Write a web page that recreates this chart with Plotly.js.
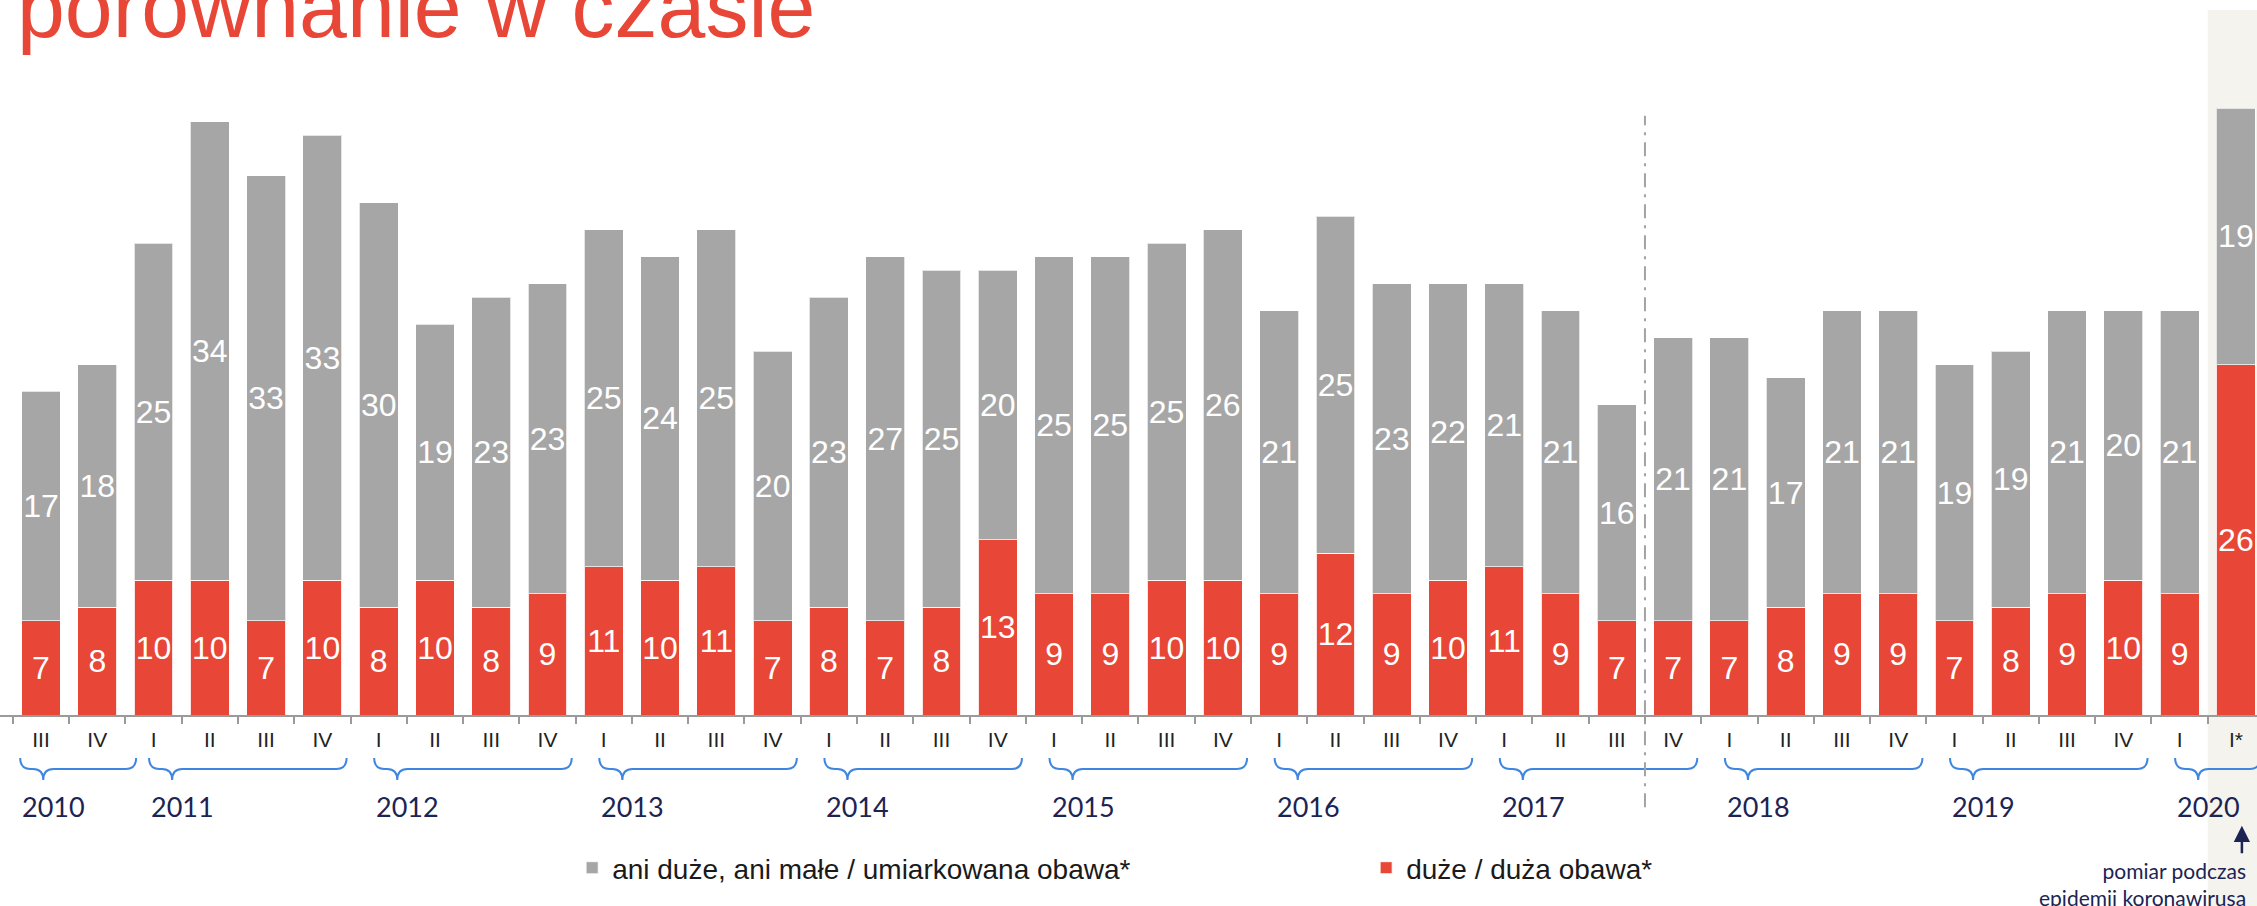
<!DOCTYPE html>
<html>
<head>
<meta charset="utf-8">
<script src="https://cdn.plot.ly/plotly-3.0.1.min.js"></script>
<style>
  html, body { margin: 0; padding: 0; background: #ffffff; }
  #chart { width: 2257px; height: 906px; }
</style>
</head>
<body>
<div id="chart"></div>
<script>
// ---------- data ----------
const years = [
  '2010','2010',
  '2011','2011','2011','2011',
  '2012','2012','2012','2012',
  '2013','2013','2013','2013',
  '2014','2014','2014','2014',
  '2015','2015','2015','2015',
  '2016','2016','2016','2016',
  '2017','2017','2017','2017',
  '2018','2018','2018','2018',
  '2019','2019','2019','2019',
  '2020','2020'
];
const quarters = [
  'III','IV',
  'I','II','III','IV',
  'I','II','III','IV',
  'I','II','III','IV',
  'I','II','III','IV',
  'I','II','III','IV',
  'I','II','III','IV',
  'I','II','III','IV',
  'I','II','III','IV',
  'I','II','III','IV',
  'I','I*'
];
const duzaObawa = [
  7, 8,
  10, 10, 7, 10,
  8, 10, 8, 9,
  11, 10, 11, 7,
  8, 7, 8, 13,
  9, 9, 10, 10,
  9, 12, 9, 10,
  11, 9, 7, 7,
  7, 8, 9, 9,
  7, 8, 9, 10,
  9, 26
];
const umiarkowanaObawa = [
  17, 18,
  25, 34, 33, 33,
  30, 19, 23, 23,
  25, 24, 25, 20,
  23, 27, 25, 20,
  25, 25, 25, 26,
  21, 25, 23, 22,
  21, 21, 16, 21,
  21, 17, 21, 21,
  19, 19, 21, 20,
  21, 19
];
const seriesNames = ['duże / duża obawa*', 'ani duże, ani małe / umiarkowana obawa*'];
const titleText = 'porównanie w czasie';
const noteText = 'pomiar podczas<br>epidemii koronawirusa';
const methodChangeCategory = '2017 IV';
const epidemicCategory = '2020 I*';

// ---------- styles ----------
const RED = '#e84637';
const GREY = '#a6a6a6';
const NAVY = '#1c2453';
const BLUE = '#3f86e0';
const BASE_FONT = 'Liberation Sans, Arial, Helvetica, sans-serif';
const YEAR_FONT = 'Lato, Inter, Noto Sans, sans-serif';

const categories = years.map((y, i) => y + ' ' + quarters[i]);

const barText = {family: BASE_FONT, size: 32, color: '#ffffff'};

const traces = [
  {
    type: 'bar', name: seriesNames[0], x: categories, y: duzaObawa,
    text: duzaObawa.map(String), textposition: 'inside', insidetextanchor: 'middle',
    textangle: 0, constraintext: 'none', textfont: barText,
    marker: {color: RED, line: {color: 'rgba(255,255,255,0.85)', width: 1}},
    hoverinfo: 'skip'
  },
  {
    type: 'bar', name: seriesNames[1], x: categories, y: umiarkowanaObawa,
    text: umiarkowanaObawa.map(String), textposition: 'inside', insidetextanchor: 'middle',
    textangle: 0, constraintext: 'none', textfont: barText,
    marker: {color: GREY, line: {color: 'rgba(255,255,255,0.7)', width: 1}},
    hoverinfo: 'skip'
  }
];

// ---------- year groups with braces ----------
const groups = [];
years.forEach((y, i) => {
  const g = groups[groups.length - 1];
  if (g && g.year === y) g.last = i; else groups.push({year: y, first: i, last: i});
});

// paper-y geometry (plot area = top 715px of 906)
const yTop = -0.060, yLine = -0.0755, yCusp = -0.091;
const shapes = [];
const annotations = [];

groups.forEach((g, k) => {
  const padL = k === 0 ? 0.37 : 0.08;
  const padR = k === 0 ? 0.69 : 0.43;
  const s = g.first - padL, e = g.last + padR;
  const c = 0.18, m = s + 0.41;
  const path = `M${s},${yTop} Q${s},${yLine} ${s + c},${yLine} L${m - c},${yLine} ` +
               `Q${m},${yLine} ${m},${yCusp} Q${m},${yLine} ${m + c},${yLine} ` +
               `L${e - c},${yLine} Q${e},${yLine} ${e},${yTop}`;
  shapes.push({type: 'path', path: path, xref: 'x', yref: 'paper',
               line: {color: BLUE, width: 2}, layer: 'above'});
  annotations.push({xref: 'x', yref: 'paper', x: s, y: -0.1273, xanchor: 'left', yanchor: 'middle',
                    text: g.year, showarrow: false,
                    font: {family: YEAR_FONT, size: 27, color: NAVY}});
});

const epiIdx = categories.indexOf(epidemicCategory);
const sepIdx = categories.indexOf(methodChangeCategory);

// beige highlight behind the epidemic measurement
shapes.unshift({type: 'rect', xref: 'x', yref: 'paper', x0: epiIdx - 0.5, x1: epiIdx + 1,
                y0: -0.3, y1: 0.986, fillcolor: '#f4f3ee', line: {width: 0}, layer: 'below'});
// dash-dot separator (methodology change)
shapes.push({type: 'line', xref: 'x', yref: 'paper', x0: sepIdx - 0.5, x1: sepIdx - 0.5,
             y0: -0.129, y1: 0.838, line: {color: '#a3a3a3', width: 2, dash: '14px,7px,3px,7px'},
             layer: 'above'});

// arrow + note
annotations.push({xref: 'x', yref: 'paper', x: epiIdx, xshift: 6, y: -0.155, text: '',
                  showarrow: true, ax: 0, ay: 29, arrowhead: 2, arrowsize: 1.3, arrowwidth: 2.5,
                  arrowcolor: NAVY, standoff: 0});
annotations.push({xref: 'paper', yref: 'paper', x: 0.996, y: -0.237, xanchor: 'right', yanchor: 'middle',
                  align: 'right', text: noteText, showarrow: false,
                  font: {family: YEAR_FONT, size: 21, color: NAVY}});

const layout = {
  width: 2257, height: 906,
  margin: {l: 0, r: 0, t: 0, b: 191, pad: 0},
  paper_bgcolor: '#ffffff', plot_bgcolor: 'rgba(0,0,0,0)',
  barmode: 'stack', bargap: 0.31,
  title: {text: titleText, xref: 'container', yref: 'container', x: 17 / 2257, xanchor: 'left',
          y: 1 - 7 / 906, yanchor: 'middle',
          font: {family: BASE_FONT, size: 86, color: RED}},
  xaxis: {
    type: 'category', categoryorder: 'array', categoryarray: categories,
    range: [-0.7285, 39.375], fixedrange: true,
    tickmode: 'array', tickvals: categories, ticktext: quarters,
    tickson: 'boundaries', ticks: 'outside', ticklen: 7, tickwidth: 2, tickcolor: '#9a9a9a',
    ticklabelstandoff: 5,
    showline: true, linecolor: '#9a9a9a', linewidth: 2, showgrid: false, zeroline: false,
    tickfont: {family: BASE_FONT, size: 21, color: '#222222'}
  },
  yaxis: {range: [0, 53.04], visible: false, fixedrange: true, showgrid: false, zeroline: false},
  showlegend: true,
  legend: {
    orientation: 'h', traceorder: 'reversed', x: 0.2535, xanchor: 'left', y: -0.214, yanchor: 'middle',
    entrywidth: 749, entrywidthmode: 'pixels', itemwidth: 30, bgcolor: 'rgba(0,0,0,0)',
    font: {family: BASE_FONT, size: 28, color: '#1a1a1a'}
  },
  shapes: shapes,
  annotations: annotations,
  hovermode: false
};

Plotly.newPlot('chart', traces, layout, {staticPlot: true, displayModeBar: false});
</script>
</body>
</html>
